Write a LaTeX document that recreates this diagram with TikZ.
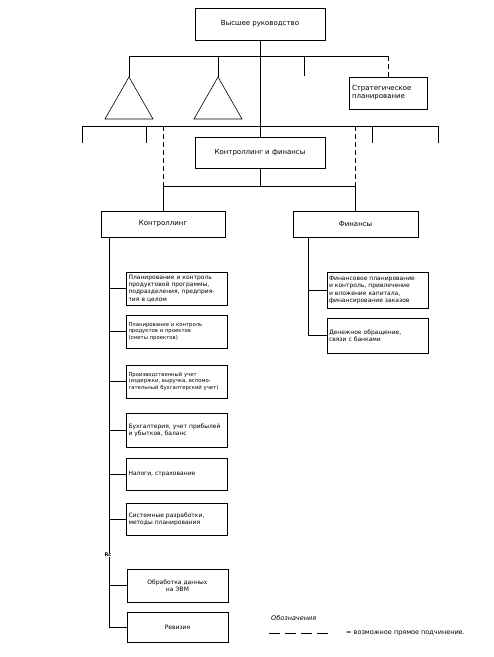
\documentclass[tikz,border=0pt]{standalone}
\usepackage{fontspec}
\setmainfont{DejaVu Sans}
\usetikzlibrary{positioning}
\tikzset{
  orgbox/.style={draw, line width=0.9pt, inner xsep=2pt, inner ysep=1pt, font=\fontsize{7}{8}\selectfont},
  taskbox/.style={orgbox, text width=97pt, align=left, font=\fontsize{6}{7.4}\selectfont},
  smalltask/.style={taskbox, font=\fontsize{5.3}{6.6}\selectfont},
  link/.style={line width=0.6pt},
  maybelink/.style={line width=0.6pt, dash pattern=on 5pt off 3pt},
}
\begin{document}
\begin{tikzpicture}[x=1pt,y=-1pt]
\useasboundingbox (0,0) rectangle (494,657);

% top level
\node[orgbox, minimum width=130, minimum height=32] (top) at (260,24) {Высшее руководство};
\node[orgbox, text width=72pt, align=left, minimum width=78, minimum height=32] (strat) at (388,93) {Стратегическое\\планирование};
\node[orgbox, minimum width=130, minimum height=31] (kf) at (260,152.5) {Контроллинг и финансы};
\node[orgbox, minimum width=124, minimum height=26] (ctrl) at (163,224) {Контроллинг};
\node[orgbox, minimum width=125, minimum height=26] (fin) at (355.5,224) {Финансы};

% staff level with triangles
\coordinate (apexA) at (129,77);
\coordinate (apexB) at (218,77);
\coordinate (hubA) at (129,56);
\coordinate (hubB) at (388,56);
\draw[link] (apexA) -- (105,119) -- (153,119) -- cycle;
\draw[link] (apexB) -- (194,119) -- (242,119) -- cycle;
\draw[link] (apexA) -- (hubA) -- (hubB);
\draw[link] (apexB) -- (apexB |- hubA);
\draw[link] (304,56) -- (304,76);
\draw[maybelink] (hubB) -- (strat.north);
\draw[link] (top.south) -- (top.south |- kf.north);

% second bus
\coordinate (midL) at (82,126);
\coordinate (midR) at (438,126);
\coordinate (kfbus) at (260,186);
\draw[link] (82,143) -- (midL) -- (midR) -- (438,143);
\foreach \x in {146,372}
  \draw[link] (\x,126) -- (\x,143);
\draw[maybelink] (ctrl.north |- midL) -- (ctrl.north |- kfbus);
\draw[maybelink] (fin.north |- midL) -- (fin.north |- kfbus);
\draw[link] (kf.south) -- (kfbus);
\draw[link] (ctrl.north) -- (ctrl.north |- kfbus) -- (fin.north |- kfbus) -- (fin.north);

% controlling tasks
\node[taskbox, minimum height=33] (c1) at (177,288.5) {Планирование и контроль\\продуктовой программы,\\подразделения, предприя-\\тия в целом};
\node[smalltask, minimum height=33] (c2) at (177,331.5) {Планирование и контроль\\продуктов и проектов\\(сметы проектов)};
\node[smalltask, minimum height=33] (c3) at (177,381.5) {Производственный учет\\(издержки, выручка, вспомо-\\гательный бухгалтерский учет)};
\node[taskbox, minimum height=34] (c4) at (177,430) {Бухгалтерия, учет прибылей\\и убытков, баланс};
\node[taskbox, minimum height=32] (c5) at (177,474) {Налоги, страхование};
\node[taskbox, minimum height=32] (c6) at (177,519) {Системные разработки,\\методы планирования};
\node[taskbox, align=center, minimum height=33] (c7) at (177.5,585.5) {Обработка данных\\на ЭВМ};
\node[taskbox, align=center, minimum height=30] (rev) at (177.5,627) {Ревизия};

\coordinate (cspine) at (109,237);
\draw[link] (cspine) -- (cspine |- rev.west) -- (rev.west);
\foreach \b in {c1,c2,c3,c4,c5,c6,c7}
  \draw[link] (\b.west -| cspine) -- (\b.west);
\node[font=\fontsize{5}{5}\selectfont\bfseries, fill=white, inner sep=0.4pt] (brk) at (108,555) {Rc};

% finance tasks
\node[taskbox, minimum height=36] (f1) at (377.5,290) {Финансовое планирование\\и контроль, привлечение\\и вложение капитала,\\финансирование заказов};
\node[taskbox, minimum height=35] (f2) at (377.5,335.5) {Денежное обращение,\\связи с банками};

\coordinate (fspine) at (308,237);
\draw[link] (fspine) -- (fspine |- f2.west) -- (f2.west);
\draw[link] (f1.west -| fspine) -- (f1.west);

% legend
\node[font=\fontsize{6.5}{7}\selectfont\itshape, anchor=west, inner sep=0pt] (legtitle) at (271,618) {Обозначения};
\coordinate (legA) at (269,633);
\coordinate (legB) at (333,633);
\draw[maybelink, dash pattern=on 11pt off 5pt] (legA) -- (legB);
\node[font=\fontsize{6.5}{7}\selectfont, anchor=west, inner sep=0pt] (legtext) at (346,633) {= возможное прямое подчинение.};
\end{tikzpicture}
\end{document}
